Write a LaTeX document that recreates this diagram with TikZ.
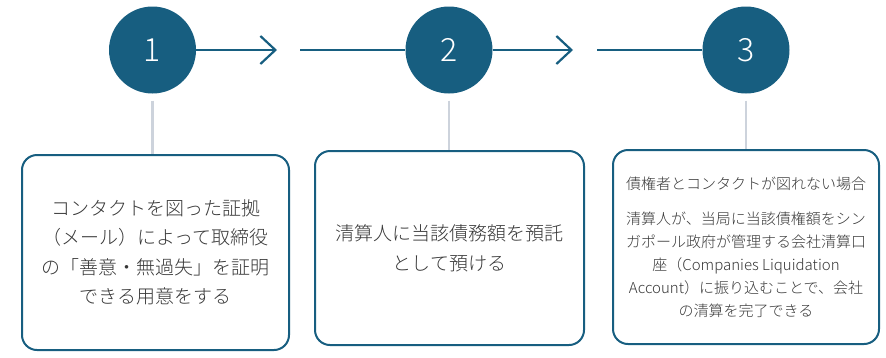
\documentclass[tikz,border=0pt]{standalone}
\usepackage{fontspec}
\setmainfont{Noto Sans CJK JP}[UprightFont={* Light}]
\usetikzlibrary{arrows.meta}
\definecolor{teal}{RGB}{23,94,128}
\definecolor{txt}{RGB}{55,55,55}
\definecolor{vgray}{RGB}{205,211,220}
\begin{document}
\begin{tikzpicture}[x=1pt,y=-1pt,
  stepcirc/.style={circle,fill=teal,draw=none,minimum size=87pt,inner sep=0pt,text=white,font=\fontsize{32}{32}\selectfont},
  stepbox/.style={draw=teal,line width=2pt,rounded corners=15pt,text=txt,align=center,inner sep=0pt},
  conn/.style={draw=teal,line width=2.2pt},
  vline/.style={draw=vgray,line width=2.5pt}]
\useasboundingbox (0,0) rectangle (886,357);
\node[stepcirc] (c1) at (152.5,50) {1};
\node[stepcirc] (c2) at (449,50) {2};
\node[stepcirc] (c3) at (746,50) {3};
\coordinate (t1) at (277,50);
\coordinate (s1) at (300,50);
\coordinate (t2) at (573,50);
\coordinate (s2) at (597,50);
\draw[conn,-{Straight Barb[length=15pt,width=28pt,line width=2.2pt]}] (c1) -- (t1);
\draw[conn] (s1) -- (c2);
\draw[conn,-{Straight Barb[length=15pt,width=28pt,line width=2.2pt]}] (c2) -- (t2);
\draw[conn] (s2) -- (c3);
\node[stepbox,minimum width=267pt,minimum height=195pt,font=\fontsize{19}{29.5}\selectfont] (b1) at (155.5,252.5)
  {コンタクトを図った証拠\\（メール）によって取締役\\の「善意・無過失」を証明\\できる用意をする};
\node[stepbox,minimum width=269pt,minimum height=194pt,font=\fontsize{19}{30}\selectfont] (b2) at (449.5,248)
  {清算人に当該債務額を預託\\として預ける};
\node[stepbox,minimum width=266pt,minimum height=194pt,font=\fontsize{15}{23}\selectfont] (b3) at (746,247)
  {債権者とコンタクトが図れない場合\\[12pt]清算人が、当局に当該債権額をシン\\ガポール政府が管理する会社清算口\\座（Companies Liquidation\\Account）に振り込むことで、会社\\の清算を完了できる};
\draw[vline,shorten <=7pt] (c1.south) -- (c1.south |- b1.north);
\draw[vline,shorten <=7pt] (c2.south) -- (c2.south |- b2.north);
\draw[vline,shorten <=7pt] (c3.south) -- (c3.south |- b3.north);
\end{tikzpicture}
\end{document}
